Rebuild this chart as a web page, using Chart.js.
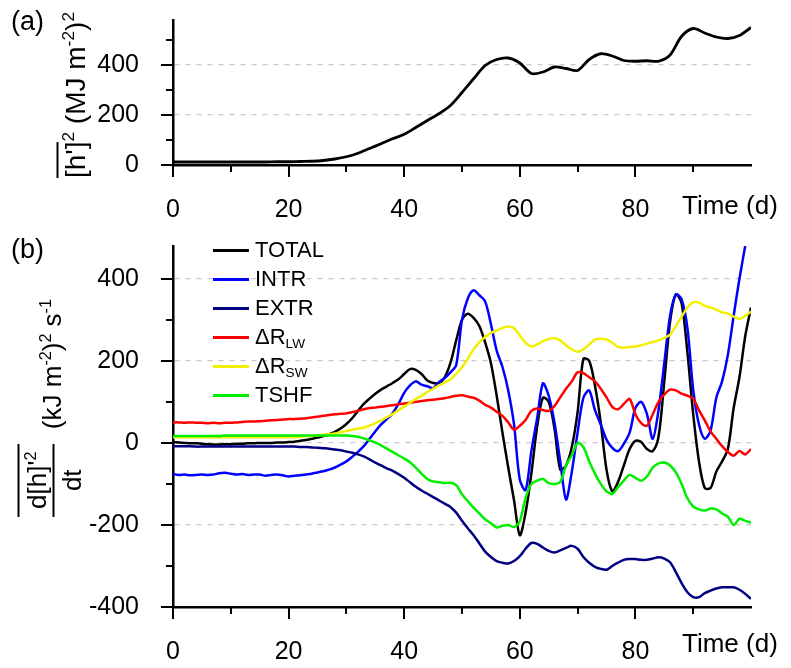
<!DOCTYPE html>
<html>
<head>
<meta charset="utf-8">
<script src="https://cdn.jsdelivr.net/npm/chart.js@4.4.0/dist/chart.umd.min.js"></script>
<style>
  body { margin: 0; background: #fff; width: 791px; height: 668px; position: relative; overflow: hidden;
         font-family: "Liberation Sans", Arial, sans-serif; color: #000; }
  canvas { position: absolute; left: 0; }
  #chartA { top: 0; }
  #chartB { top: 230px; }
  .lbl { position: absolute; font-size: 26px; line-height: 1; white-space: nowrap; }
  .rot { position: absolute; transform: translate(-50%, -50%) rotate(-90deg); white-space: nowrap;
         font-size: 26px; line-height: 1; display: flex; align-items: center; }
  sup { font-size: 0.62em; vertical-align: 0.6em; line-height: 0; }
  sub { font-size: 0.62em; vertical-align: -0.3em; line-height: 0; }
  .ovl { border-top: 2px solid #000; padding-top: 3px; display: inline-block; }
  .frac { display: inline-flex; flex-direction: column; align-items: center; }
  .num { border-top: 2px solid #000; border-bottom: 2px solid #000; padding: 4px 8px 3px 8px; }
  .den { padding-top: 4px; }
  .leg { position: absolute; font-size: 22px; line-height: 1; white-space: nowrap; }
  .leg span.ln { position: absolute; left: -42px; top: 10px; width: 36px; height: 3px; }
</style>
</head>
<body>
<canvas id="chartA" width="791" height="230"></canvas>
<canvas id="chartB" width="791" height="438"></canvas>

<div class="lbl" style="left:11px; top:8px; font-size:27px;">(a)</div>
<div class="lbl" style="left:11px; top:236px; font-size:27px;">(b)</div>
<div class="lbl" style="left:682px; top:192px;">Time (d)</div>
<div class="lbl" style="left:682px; top:630px;">Time (d)</div>

<div class="rot" style="left:73px; top:95px; font-size:28px;">
  <span><span class="ovl">[h']</span><sup>2</sup>&nbsp;(MJ m<sup>-2</sup>)<sup>2</sup></span>
</div>
<div class="rot" style="left:51px; top:408px;">
  <span class="frac"><span class="num">d[h]'<sup>2</sup></span><span class="den">dt</span></span>
  <span>&nbsp;&nbsp;(kJ m<sup>-2</sup>)<sup>2</sup> s<sup>-1</sup></span>
</div>
<div id="legend"></div>

<script>
"use strict";

// shared x ticks (days); the 100 position carries the "Time (d)" label instead
const dayTicks = [0, 20, 40, 60, 80];

// panel (a): time and [h']^2 variance
const hTicks = [0, 200, 400];
const hDays = [0, 2, 4, 6, 8, 10, 12, 14, 16, 18, 20, 22, 24, 26, 28, 30, 32, 34, 36, 38, 40,
  42, 44, 46, 48, 50, 52, 54, 56, 58, 60, 62, 64, 66, 68, 70, 72, 74, 76, 78, 80,
  82, 84, 86, 88, 90, 92, 94, 96, 98, 100];
const hVar = [12, 12, 12, 12, 12, 12, 12, 12, 12, 13, 13,
  14, 15, 18, 24, 33, 47, 66, 85, 105, 123,
  150, 178, 205, 238, 290, 345, 398, 422, 428, 408,
  366, 372, 392, 386, 378, 422, 445, 436, 418, 415,
  417, 415, 440, 515, 546, 528, 512, 506, 518, 550];

// panel (b): budget terms, one value per day
const budgetTicks = [-400, -200, 0, 200, 400];
const days = [0, 1, 2, 3, 4, 5, 6, 7, 8, 9, 10, 11, 12, 13, 14, 15, 16, 17, 18, 19, 20,
  21, 22, 23, 24, 25, 26, 27, 28, 29, 30, 31, 32, 33, 34, 35, 36, 37, 38, 39, 40,
  41, 42, 43, 44, 45, 46, 47, 48, 49, 50, 51, 52, 53, 54, 55, 56, 57, 58, 59, 60,
  61, 62, 63, 64, 65, 66, 67, 68, 69, 70, 71, 72, 73, 74, 75, 76, 77, 78, 79, 80,
  81, 82, 83, 84, 85, 86, 87, 88, 89, 90, 91, 92, 93, 94, 95, 96, 97, 98, 99, 100];

const total = [2, 1, 0, -1, -1, -2, -3, -4, -4, -3, -3,
  -2, -2, -1, -1, 0, 0, 0, 1, 1, 2,
  3, 5, 7, 10, 13, 17, 21, 27, 35, 46,
  60, 78, 95, 108, 120, 130, 138, 146, 155, 168,
  180, 178, 168, 152, 146, 146, 160, 195, 250, 300,
  315, 305, 285, 245, 195, 115, 25, -60, -140, -225,
  -170, -75, 40, 110, 100, 35, -65, -55, -10, 75,
  205, 200, 140, 50, -65, -118, -95, -55, -15, 5,
  2, -15, -20, 15, 150, 295, 362, 340, 220, 70,
  -45, -110, -110, -70, -45, -15, 85, 160, 260, 330];

const intr = [-76, -78, -77, -79, -78, -77, -78, -77, -74, -73, -75,
  -77, -76, -78, -77, -77, -80, -78, -77, -79, -82,
  -80, -79, -77, -75, -72, -69, -65, -60, -53, -45,
  -34, -22, -8, 10, 28, 45, 58, 72, 95, 122,
  140, 150, 142, 138, 133, 148, 158, 172, 190, 300,
  352, 372, 360, 345, 290, 225, 185, 128, 45, -90,
  -115, -20, 60, 145, 115, 50, -45, -138, -70, 25,
  110, 128, 80, 45, 8, -12, -20, -2, 25, 85,
  100, 70, 10, 80, 195, 310, 362, 350, 280, 130,
  45, 10, 30, 110, 150, 215, 310, 400, 480, null];

const extr = [-8, -8, -8, -8, -9, -9, -9, -9, -9, -9, -9,
  -9, -9, -9, -9, -9, -9, -9, -9, -9, -9,
  -9, -10, -10, -11, -12, -13, -14, -16, -18, -21,
  -24, -28, -33, -40, -48, -55, -62, -68, -76, -85,
  -96, -107, -116, -124, -132, -140, -148, -156, -170, -190,
  -208, -225, -245, -265, -278, -288, -292, -294, -288, -276,
  -258, -244, -246, -255, -263, -267, -262, -256, -251, -258,
  -278, -292, -302, -307, -309, -300, -292, -285, -283, -283,
  -285, -285, -282, -279, -282, -291, -315, -342, -364, -376,
  -376, -366, -360, -355, -352, -352, -352, -358, -368, -380];

const dRlw = [50, 50, 49, 50, 49, 49, 48, 49, 48, 49, 49,
  50, 51, 52, 52, 53, 54, 55, 56, 57, 58,
  58, 59, 60, 62, 64, 66, 68, 70, 71, 72,
  75, 78, 82, 85, 86, 88, 90, 92, 94, 96,
  98, 100, 102, 104, 105, 107, 109, 112, 115, 116,
  113, 110, 103, 93, 86, 76, 66, 50, 32, 42,
  56, 78, 84, 80, 78, 90, 111, 132, 150, 172,
  170, 160, 150, 132, 111, 88, 82, 95, 107, 70,
  48, 42, 70, 100, 118, 130, 128, 120, 115, 108,
  80, 55, 28, 10, -8, -22, -31, -20, -28, -15];

const dRsw = [14, 14, 14, 14, 14, 14, 14, 14, 14, 14, 14,
  14, 14, 14, 14, 14, 14, 14, 14, 14, 14,
  14, 15, 16, 17, 18, 20, 21, 23, 26, 29,
  32, 35, 37, 42, 48, 55, 63, 70, 80, 88,
  98, 107, 115, 124, 132, 140, 147, 155, 168, 185,
  205, 228, 245, 258, 268, 274, 280, 284, 280, 262,
  244, 235, 240, 248, 253, 256, 250, 238, 228, 222,
  228, 240, 252, 254, 252, 244, 234, 232, 234, 235,
  238, 242, 246, 250, 256, 264, 285, 308, 330, 343,
  342, 334, 330, 325, 318, 315, 308, 302, 310, 320];

const tshf = [17, 17, 17, 17, 17, 17, 17, 17, 17, 18, 18,
  18, 18, 18, 18, 18, 18, 18, 18, 18, 18,
  18, 18, 18, 18, 18, 18, 18, 18, 18, 18,
  17, 15, 11, 6, 1, -6, -14, -22, -30, -38,
  -47, -60, -75, -88, -94, -96, -98, -97, -103, -125,
  -142, -158, -172, -186, -196, -206, -202, -200, -205, -190,
  -135, -100, -92, -88, -98, -100, -95, -55, -30, 0,
  -10, -45, -75, -100, -118, -124, -108, -92, -78, -85,
  -92, -82, -60, -50, -48, -55, -72, -100, -135, -155,
  -162, -165, -160, -162, -172, -180, -200, -185, -190, -194];

const seriesNames = ["TOTAL", "INTR", "EXTR", "ΔR<sub>LW</sub>", "ΔR<sub>SW</sub>", "TSHF"];
const seriesColors = ["#000000", "#0000ff", "#000080", "#ff0000", "#f0f000", "#00ee00"];
const seriesValues = [total, intr, extr, dRlw, dRsw, tshf];

const FONT = "'Liberation Sans', Arial, sans-serif";

function toPoints(xs, ys) {
  return xs.map((x, i) => ({ x: x, y: ys[i] }));
}

// major/minor tick marks drawn outward from the axes
const axisTicks = {
  id: "axisTicks",
  afterDraw(chart) {
    const ctx = chart.ctx;
    const x = chart.scales.x;
    const y = chart.scales.y;
    const a = chart.chartArea;
    ctx.save();
    ctx.strokeStyle = "#000";
    ctx.lineWidth = 2;
    ctx.beginPath();
    for (let v = 0; v < 100; v += 10) {
      const px = Math.round(x.getPixelForValue(v));
      const len = v % 20 === 0 ? 12 : 7;
      ctx.moveTo(px, a.bottom);
      ctx.lineTo(px, a.bottom + len);
    }
    for (let v = Math.ceil(y.min / 100) * 100; v <= y.max; v += 100) {
      const py = Math.round(y.getPixelForValue(v));
      const len = v % 200 === 0 ? 12 : 7;
      ctx.moveTo(a.left, py);
      ctx.lineTo(a.left - len, py);
    }
    ctx.stroke();
    ctx.restore();
  }
};

function makeOptions(yMin, yMax, yTicks, padTop, xHeight) {
  return {
    responsive: false,
    animation: false,
    layout: { padding: { top: padTop, right: 40, left: 0, bottom: 0 } },
    plugins: { legend: { display: false }, tooltip: { enabled: false } },
    elements: { point: { radius: 0 }, line: { borderWidth: 2.5, tension: 0.3 } },
    scales: {
      x: {
        type: "linear",
        min: 0,
        max: 100,
        afterBuildTicks(s) { s.ticks = dayTicks.map((v) => ({ value: v })); },
        afterFit(s) {
          s.height = xHeight;
          s.paddingLeft = 0;
          s.paddingRight = 0;
        },
        ticks: {
          autoSkip: false,
          maxRotation: 0,
          padding: 30,
          color: "#000",
          font: { family: FONT, size: 25 }
        },
        grid: { display: false, drawTicks: false },
        border: { color: "#000", width: 2.5 }
      },
      y: {
        min: yMin,
        max: yMax,
        afterBuildTicks(s) { s.ticks = yTicks.map((v) => ({ value: v })); },
        afterFit(s) {
          s.width = 173;
          s.paddingTop = 0;
          s.paddingBottom = 0;
        },
        ticks: {
          autoSkip: false,
          padding: 34,
          color: "#000",
          font: { family: FONT, size: 25 }
        },
        grid: {
          drawTicks: false,
          lineWidth: 1.2,
          color: (c) => (c.tick && c.tick.value !== yMin ? "#c8c8c8" : "rgba(0,0,0,0)")
        },
        border: { color: "#000", width: 2.5, dash: [5, 6] }
      }
    }
  };
}

new Chart(document.getElementById("chartA"), {
  type: "line",
  data: {
    datasets: [{
      label: "[h']^2",
      data: toPoints(hDays, hVar),
      borderColor: "#000",
      borderWidth: 2.8
    }]
  },
  options: makeOptions(0, 580, hTicks, 20, 65),
  plugins: [axisTicks]
});

new Chart(document.getElementById("chartB"), {
  type: "line",
  data: {
    datasets: seriesValues.map((vals, i) => ({
      label: seriesNames[i].replace(/<\/?sub>/g, ""),
      data: toPoints(days, vals),
      borderColor: seriesColors[i],
      order: seriesValues.length - 1 - i
    }))
  },
  options: makeOptions(-400, 480, budgetTicks, 16, 61),
  plugins: [axisTicks]
});

// legend with subscripts
const legend = document.getElementById("legend");
seriesNames.forEach((name, i) => {
  const row = document.createElement("div");
  row.className = "leg";
  row.style.left = "255px";
  row.style.top = (239 + 28.9 * i) + "px";
  row.innerHTML = '<span class="ln" style="background:' + seriesColors[i] + '"></span>' + name;
  legend.appendChild(row);
});
</script>
</body>
</html>
